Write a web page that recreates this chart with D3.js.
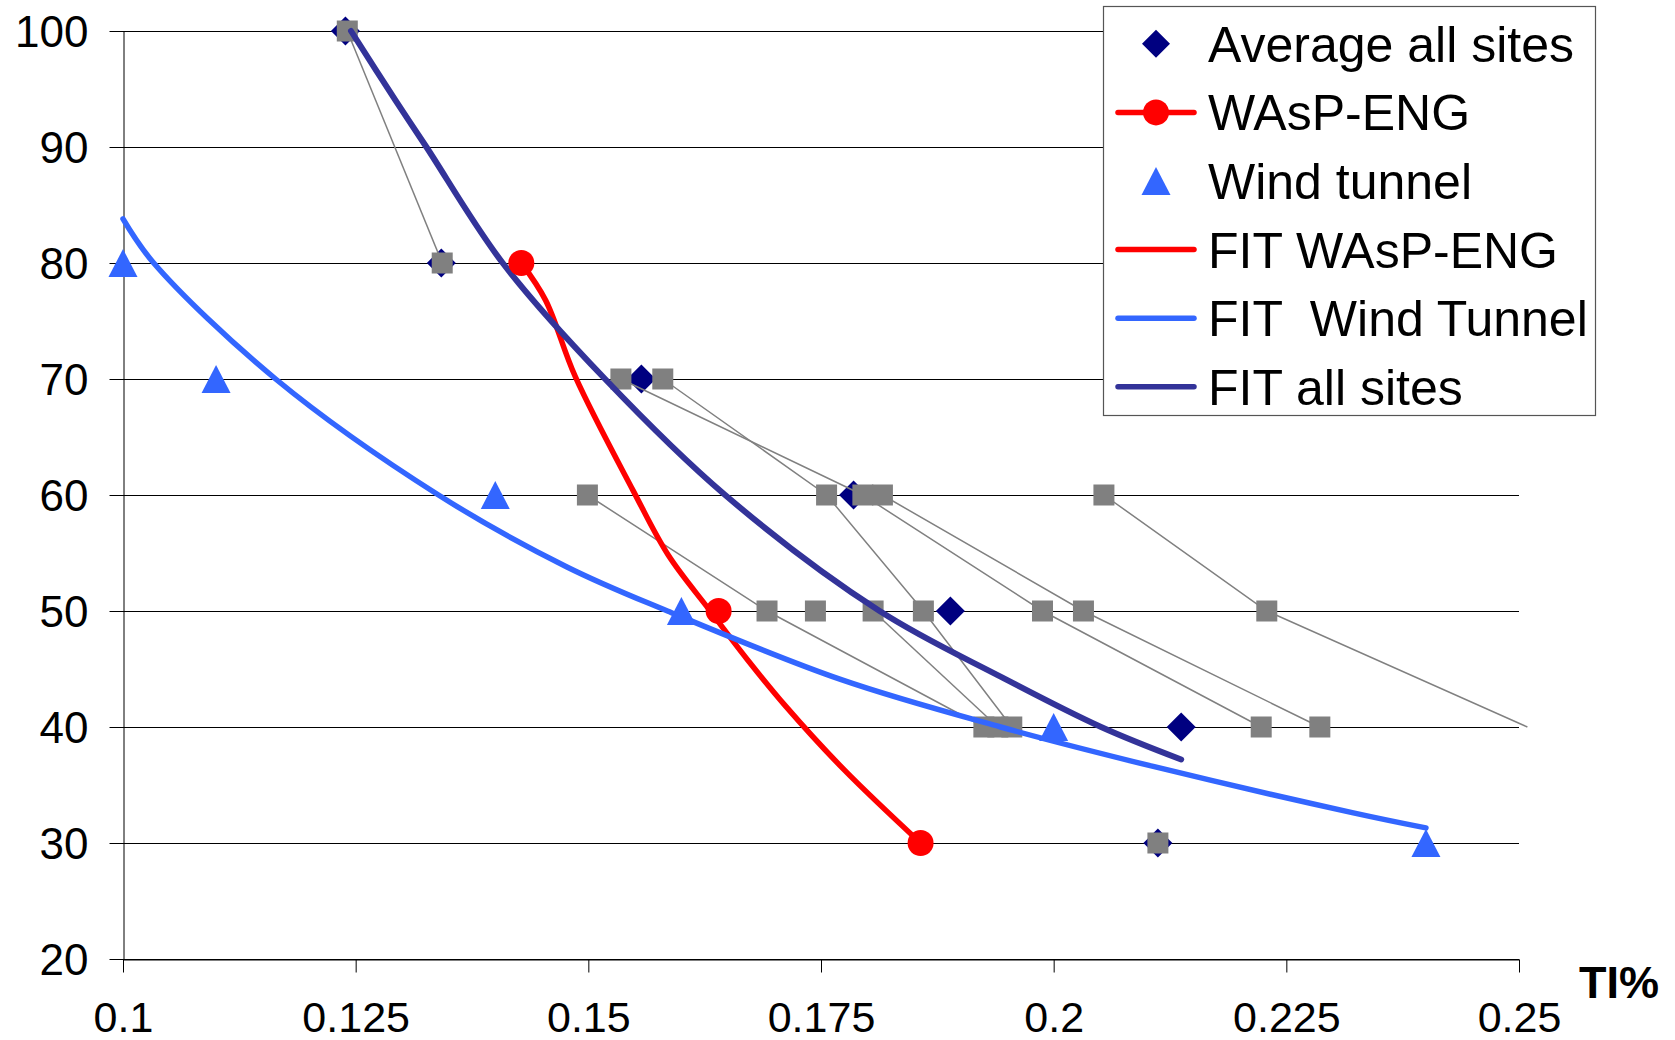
<!DOCTYPE html>
<html><head><meta charset="utf-8">
<script src="https://cdn.jsdelivr.net/npm/d3@7"></script>
<style>html,body{margin:0;padding:0;background:#fff;} svg{display:block;}</style>
</head><body>
<svg id="chart" width="1675" height="1040"></svg>
<script>
// ---------- data ----------
const yTicks = [20, 30, 40, 50, 60, 70, 80, 90, 100];
const xTicks = [0.1, 0.125, 0.15, 0.175, 0.2, 0.225, 0.25];
const xTickLabels = ["0.1", "0.125", "0.15", "0.175", "0.2", "0.225", "0.25"];
const xAxisTitle = "TI%";
const legendLabels = ["Average all sites", "WAsP-ENG", "Wind tunnel", "FIT WAsP-ENG", "FIT  Wind Tunnel", "FIT all sites"];

const averageAllSites = [[0.1239,100],[0.1342,80],[0.1557,70],[0.1785,60],[0.1889,50],[0.2137,40],[0.2112,30]];
const waspEng = [[0.1428,80],[0.1640,50],[0.1857,30]];
const windTunnel = [[0.100,80],[0.110,70],[0.140,60],[0.160,50],[0.200,40],[0.240,30]];

const fitWaspEng = [[0.1428,80],[0.1454,76.8],[0.1486,70.2],[0.1548,60.4],[0.1586,54.8],[0.1630,50.1],
  [0.1671,45.8],[0.1712,41.8],[0.1775,36.3],[0.1857,30]];
const fitWindTunnel = [[0.1000,83.8],[0.1033,80],[0.1164,70],[0.1339,60],[0.1477,53.8],[0.1585,50],
  [0.1771,44.1],[0.1943,40],[0.2107,36.6],[0.2322,32.6],[0.2400,31.3]];
const fitAllSites = [[0.1245,100],[0.1293,94.0],[0.1326,90],[0.1408,80],[0.1518,70],[0.1647,60],
  [0.1813,50],[0.1944,44.3],[0.2051,40],[0.2137,37.2]];

const site1 = [[0.1241,100],[0.1343,80]];
const site2 = [[0.1580,70],[0.1756,60],[0.1860,50],[0.1955,40]];
const site3 = [[0.1535,70],[0.1795,60],[0.1988,50],[0.2223,40]];
const site4 = [[0.1816,60],[0.2032,50],[0.2286,40]];
const site5 = [[0.2054,60],[0.2229,50],[0.2509,40]];
const site6 = [[0.1499,60],[0.1692,50],[0.1925,40]];
const site7 = [[0.1806,50],[0.1940,40]];
const site8 = [[0.1744,50]];
const site9 = [[0.2112,30]];
const sites = [site1, site2, site3, site4, site5, site6, site7, site8, site9];

// ---------- layout ----------
const FONT = "'Liberation Sans', Arial, sans-serif";
const L = 123, R = 1519, T = 31, B = 959;
const x = d3.scaleLinear().domain([0.1, 0.25]).range([L, R]);
const y = d3.scaleLinear().domain([20, 100]).range([B, T]);

const svg = d3.select("#chart");
svg.append("rect").attr("width", 1675).attr("height", 1040).attr("fill", "#fff");

// gridlines
svg.append("g").selectAll("line").data(yTicks).join("line")
  .attr("x1", L).attr("x2", R)
  .attr("y1", d => Math.round(y(d)) + 0.5).attr("y2", d => Math.round(y(d)) + 0.5)
  .attr("stroke", "#000").attr("stroke-width", 1);

// y axis
const yAxis = svg.append("g").attr("transform", `translate(${L + 0.5},0)`)
  .call(d3.axisLeft(y).tickValues(yTicks).tickSize(14).tickPadding(21).tickSizeOuter(0).tickFormat(d3.format("d")));
yAxis.select(".domain").attr("stroke", "#000");
yAxis.selectAll(".tick line").attr("stroke", "#000");
yAxis.selectAll("text").attr("font-family", FONT).attr("font-size", 44).attr("fill", "#000").attr("dy", "0.36em");

// x axis
const xAxis = svg.append("g").attr("transform", `translate(0,${Math.round(y(20)) + 0.5})`)
  .call(d3.axisBottom(x).tickValues(xTicks).tickSize(13).tickPadding(29).tickSizeOuter(0)
    .tickFormat((d, i) => xTickLabels[i]));
xAxis.select(".domain").attr("stroke", "#000");
xAxis.selectAll(".tick line").attr("stroke", "#000");
xAxis.selectAll("text").attr("font-family", FONT).attr("font-size", 43).attr("fill", "#000");

svg.append("text").attr("x", 1579).attr("y", 998).attr("font-family", FONT).attr("font-weight", "bold")
  .attr("font-size", 45).attr("fill", "#000").text(xAxisTitle);

// marker shapes
const diamondPath = r => `M0,${-r}L${r},0L0,${r}L${-r},0Z`;
const trianglePath = (w, h) => `M0,${-h/2}L${w/2},${h/2}L${-w/2},${h/2}Z`;
const NAVY = "#000080", GRAY = "#808080", BLUE = "#3366FF", RED = "#FF0000", DARKBLUE = "#333399";

// average diamonds (bottom)
svg.append("g").selectAll("path").data(averageAllSites).join("path")
  .attr("d", diamondPath(14.5)).attr("fill", NAVY)
  .attr("transform", d => `translate(${x(d[0])},${y(d[1])})`);

// site series
const lineGen = d3.line().x(d => x(d[0])).y(d => y(d[1]));
const gSites = svg.append("g");
sites.forEach(s => {
  if (s.length > 1) gSites.append("path").attr("d", lineGen(s)).attr("fill", "none")
    .attr("stroke", GRAY).attr("stroke-width", 1.5);
});
sites.forEach(s => {
  gSites.append("g").selectAll("rect").data(s.filter(d => d[0] <= 0.25)).join("rect")
    .attr("x", d => x(d[0]) - 10.5).attr("y", d => y(d[1]) - 10.5)
    .attr("width", 21).attr("height", 21).attr("fill", GRAY);
});

// fit curves
const curveGen = d3.line().x(d => x(d[0])).y(d => y(d[1])).curve(d3.curveCatmullRom.alpha(0.5));
svg.append("path").attr("d", curveGen(fitWaspEng)).attr("fill", "none").attr("stroke", RED)
  .attr("stroke-width", 5.5).attr("stroke-linejoin", "round").attr("stroke-linecap", "round");
svg.append("path").attr("d", curveGen(fitWindTunnel)).attr("fill", "none").attr("stroke", BLUE)
  .attr("stroke-width", 5.5).attr("stroke-linejoin", "round").attr("stroke-linecap", "round");
svg.append("path").attr("d", curveGen(fitAllSites)).attr("fill", "none").attr("stroke", DARKBLUE)
  .attr("stroke-width", 6).attr("stroke-linejoin", "round").attr("stroke-linecap", "round");

// wind tunnel triangles
svg.append("g").selectAll("path").data(windTunnel).join("path")
  .attr("d", trianglePath(29, 28)).attr("fill", BLUE)
  .attr("transform", d => `translate(${x(d[0])},${y(d[1])})`);

// WAsP-ENG circles
svg.append("g").selectAll("circle").data(waspEng).join("circle")
  .attr("cx", d => x(d[0])).attr("cy", d => y(d[1])).attr("r", 13).attr("fill", RED);

// legend
const lg = svg.append("g");
lg.append("rect").attr("x", 1103.5).attr("y", 6.5).attr("width", 492).attr("height", 409)
  .attr("fill", "#fff").attr("stroke", "#555").attr("stroke-width", 1.2);
const rowY = i => 43.8 + i * 68.6;
const symX = 1156;
legendLabels.forEach((lab, i) => {
  const cy = rowY(i);
  lg.append("text").attr("x", 1208).attr("y", cy).attr("dy", "0.358em")
    .attr("font-family", FONT).attr("font-size", 50).attr("fill", "#000")
    .style("white-space", "pre").text(lab);
});
// symbols
lg.append("path").attr("d", diamondPath(14)).attr("fill", NAVY).attr("transform", `translate(${symX},${rowY(0)})`);
lg.append("line").attr("x1", 1118).attr("x2", 1194).attr("y1", rowY(1)).attr("y2", rowY(1))
  .attr("stroke", RED).attr("stroke-width", 5.5).attr("stroke-linecap", "round");
lg.append("circle").attr("cx", symX).attr("cy", rowY(1)).attr("r", 13).attr("fill", RED);
lg.append("path").attr("d", trianglePath(29, 28)).attr("fill", BLUE).attr("transform", `translate(${symX},${rowY(2)})`);
[[RED, 3], [BLUE, 4], [DARKBLUE, 5]].forEach(([c, i]) => {
  lg.append("line").attr("x1", 1118).attr("x2", 1194).attr("y1", rowY(i)).attr("y2", rowY(i))
    .attr("stroke", c).attr("stroke-width", 5.5).attr("stroke-linecap", "round");
});
</script>
</body></html>
